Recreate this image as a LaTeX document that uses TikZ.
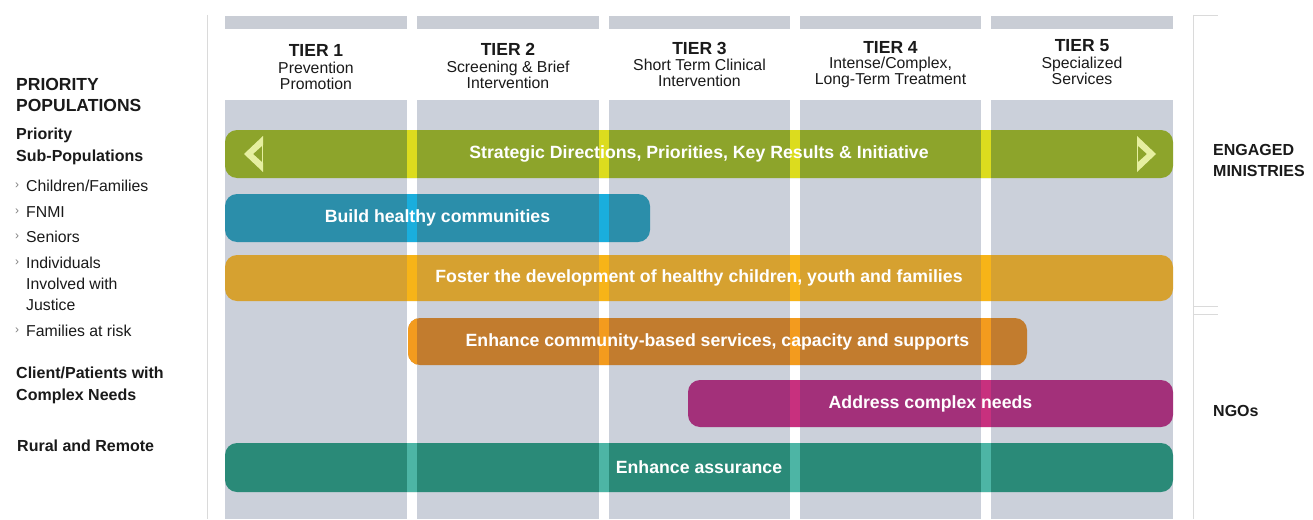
\documentclass[tikz,border=0pt]{standalone}
\usepackage{fontspec}
\setmainfont{Liberation Sans}
\definecolor{colgray}{HTML}{CBD0DA}
\definecolor{stripgray}{HTML}{C9CDD5}
\definecolor{cgreen}{HTML}{8DA42B}
\definecolor{ggreen}{HTML}{DCDC1E}
\definecolor{cblue}{HTML}{2B8EAA}
\definecolor{gblue}{HTML}{1AAEDD}
\definecolor{cgold}{HTML}{D6A130}
\definecolor{ggold}{HTML}{F7B418}
\definecolor{cbrown}{HTML}{C27C2E}
\definecolor{gbrown}{HTML}{F39B1E}
\definecolor{cmag}{HTML}{A3307A}
\definecolor{gmag}{HTML}{C8307E}
\definecolor{cteal}{HTML}{2A8A78}
\definecolor{gteal}{HTML}{4DB5A5}
\definecolor{chev}{HTML}{E6EFA0}
\definecolor{txt}{HTML}{1A1A1A}
\definecolor{rulegray}{HTML}{DADADA}
\newcommand\tierbar[8]{%
  \begin{scope}
    \fill[#5,rounded corners=12pt] (#1,#2) rectangle (#3,#4);
    \clip[rounded corners=12pt] (#1,#2) rectangle (#3,#4);
    \foreach \g in {407,599,790,981} \fill[#6] (\g,#2) rectangle (\g+10,#4);
  \end{scope}
  \node[bartext] (#7) at ({(#1+#3)/2},{(#2+#4)/2}) {#8};
}
\begin{document}
\begin{tikzpicture}[x=1pt,y=-1pt,
  bartext/.style={text=white,font=\fontsize{17.7}{19}\selectfont\bfseries,inner sep=0pt},
  tiertitle/.style={text=txt,font=\fontsize{17.5}{19}\selectfont\bfseries,inner sep=0pt},
  tiersub/.style={text=txt,font=\fontsize{15.8}{16}\selectfont,align=center,inner sep=0pt},
  lhead/.style={text=txt,font=\fontsize{17.5}{20.5}\selectfont\bfseries,anchor=west,align=left,inner sep=0pt},
  lsub/.style={text=txt,font=\fontsize{16}{22}\selectfont\bfseries,anchor=west,align=left,inner sep=0pt},
  litem/.style={text=txt,font=\fontsize{15.8}{21}\selectfont,anchor=west,align=left,inner sep=0pt},
  bul/.style={text=gray,font=\fontsize{12}{12}\selectfont,anchor=west,inner sep=0pt},
  rhead/.style={text=txt,font=\fontsize{16}{21}\selectfont\bfseries,anchor=west,align=left,inner sep=0pt},
  thinrule/.style={draw=rulegray,line width=0.8pt}]
\useasboundingbox (0,0) rectangle (1313,519);
\fill[white] (0,0) rectangle (1313,519);
% frame rules
\draw[thinrule] (207,15) -- (207,519);
\draw[thinrule] (1193,15) -- (1193,519);
\draw[thinrule] (1193,15) -- (1218,15);
\draw[thinrule] (1193,306) -- (1218,306);
\draw[thinrule] (1193,314) -- (1218,314);
% columns
\foreach \a/\b in {225/407,417/599,609/790,800/981,991/1173} {
  \fill[colgray] (\a,100) rectangle (\b,519);
  \fill[stripgray] (\a,16) rectangle (\b,29);
}
% tier headers
\node[tiertitle] (t1) at (316,50) {TIER 1};
\node[tiersub] (s1) at (316,76) {Prevention\\Promotion};
\node[tiertitle] (t2) at (508,49) {TIER 2};
\node[tiersub] (s2) at (508,75) {Screening \& Brief\\Intervention};
\node[tiertitle] (t3) at (699.5,48) {TIER 3};
\node[tiersub] (s3) at (699.5,73) {Short Term Clinical\\Intervention};
\node[tiertitle] (t4) at (890.5,47) {TIER 4};
\node[tiersub] (s4) at (890.5,72) {Intense/Complex,\\Long-Term Treatment};
\node[tiertitle] (t5) at (1082,46) {TIER 5};
\node[tiersub] (s5) at (1082,71) {Specialized\\Services};
% bars
\tierbar{225}{130}{1173}{178}{cgreen}{ggreen}{b1}{Strategic Directions, Priorities, Key Results \& Initiative}
\fill[chev] (263,136) -- (244,154) -- (263,172) -- (263,163) -- (253,154) -- (263,145) -- cycle;
\draw[chev,line width=1.5pt] (262.5,138) -- (262.5,170);
\fill[chev] (1137,136) -- (1156,154) -- (1137,172) -- (1137,163) -- (1147,154) -- (1137,145) -- cycle;
\draw[chev,line width=1.5pt] (1137.5,138) -- (1137.5,170);
\tierbar{225}{194}{650}{242}{cblue}{gblue}{b2}{Build healthy communities}
\tierbar{225}{255}{1173}{301}{cgold}{ggold}{b3}{Foster the development of healthy children, youth and families}
\tierbar{408}{318}{1027}{365}{cbrown}{gbrown}{b4}{Enhance community-based services, capacity and supports}
\tierbar{688}{380}{1173}{427}{cmag}{gmag}{b5}{Address complex needs}
\tierbar{225}{443}{1173}{492}{cteal}{gteal}{b6}{Enhance assurance}
% left column
\node[lhead] (pp) at (16,95) {PRIORITY\\POPULATIONS};
\node[lsub] (sp) at (16,146) {Priority\\Sub-Populations};
\node[bul] (x1) at (15,186) {›};
\node[litem] (i1) at (26,186) {Children/Families};
\node[bul] (x2) at (15,212) {›};
\node[litem] (i2) at (26,212) {FNMI};
\node[bul] (x3) at (15,237) {›};
\node[litem] (i3) at (26,237) {Seniors};
\node[bul] (x4) at (15,263) {›};
\node[litem] (i4) at (26,284) {Individuals\\Involved with\\Justice};
\node[bul] (x5) at (15,331) {›};
\node[litem] (i5) at (26,331) {Families at risk};
\node[lsub] (cp) at (16,385) {Client/Patients with\\Complex Needs};
\node[lsub] (rr) at (17,446) {Rural and Remote};
% right column
\node[rhead] (em) at (1213,160) {ENGAGED\\MINISTRIES};
\node[rhead] (ng) at (1213,411) {NGOs};
\end{tikzpicture}
\end{document}
